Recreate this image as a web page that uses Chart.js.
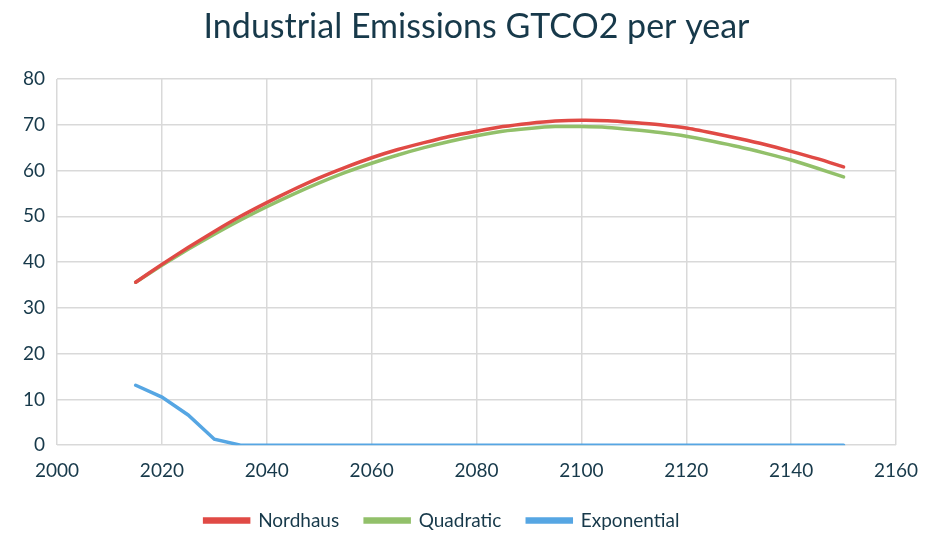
<!DOCTYPE html>
<html>
<head>
<meta charset="utf-8">
<script src="https://cdn.jsdelivr.net/npm/chart.js@4"></script>
<style>
  html, body { margin: 0; padding: 0; background: #fff; }
  #wrap { width: 927px; height: 536px; }
</style>
</head>
<body>
<div id="wrap"><canvas id="myChart"></canvas></div>
<script>
// years (x) and the three emission series, GtCO2 per year
const years = [2015, 2020, 2025, 2030, 2035, 2040, 2045, 2050, 2055, 2060, 2065, 2070, 2075, 2080,
  2085, 2090, 2095, 2100, 2105, 2110, 2115, 2120, 2125, 2130, 2135, 2140, 2145, 2150];

const nordhaus = [35.6, 39.5, 43.2, 46.7, 50.0, 53.0, 55.8, 58.4, 60.7, 62.8, 64.6, 66.1, 67.5, 68.6,
  69.6, 70.3, 70.8, 71.0, 70.9, 70.5, 70.0, 69.3, 68.2, 67.0, 65.7, 64.2, 62.6, 60.8];

const quadratic = [35.6, 39.3, 42.8, 46.1, 49.2, 52.1, 54.8, 57.3, 59.6, 61.6, 63.4, 65.0, 66.4, 67.6,
  68.6, 69.2, 69.6, 69.6, 69.4, 68.9, 68.3, 67.5, 66.4, 65.2, 63.8, 62.3, 60.5, 58.6];

const exponential = [13.1, 10.5, 6.6, 1.3, 0, 0, 0, 0, 0, 0, 0, 0, 0, 0,
  0, 0, 0, 0, 0, 0, 0, 0, 0, 0, 0, 0, 0, 0];

const seriesNames = ['Nordhaus', 'Quadratic', 'Exponential'];
const seriesColors = ['#e04a45', '#92c06a', '#56a6e3'];
const seriesTension = [0.2, 0.2, 0];
const chartTitle = 'Industrial Emissions GTCO2 per year';

function toPoints(vals) {
  return years.map((y, i) => ({ x: y, y: vals[i] }));
}

const textColor = '#17394a';
const font = "'Lato', 'Open Sans', sans-serif";

// title centred over the plot area, like the spreadsheet original
const plotTitle = {
  id: 'plotTitle',
  afterDraw(chart) {
    const ctx = chart.ctx, a = chart.chartArea;
    ctx.save();
    ctx.fillStyle = textColor;
    ctx.font = "normal 34px " + font;
    ctx.textAlign = 'center';
    ctx.textBaseline = 'middle';
    ctx.fillText(chartTitle, (a.left + a.right) / 2, 27);
    ctx.restore();
  }
};

// keep the legend short so the plot reaches further down, then nudge it into place
const shortLegend = {
  id: 'shortLegend',
  beforeInit(chart) {
    const fit = chart.legend.fit;
    chart.legend.fit = function () {
      fit.call(this);
      this.height = 40;
    };
  },
  afterLayout(chart) {
    const lg = chart.legend;
    lg.top -= 11;
    lg.height += 11;
    lg.left -= 22;
    lg.right -= 22;
  }
};

const data = {
  datasets: [nordhaus, quadratic, exponential].map((vals, i) => ({
    label: seriesNames[i],
    data: toPoints(vals),
    borderColor: seriesColors[i],
    backgroundColor: seriesColors[i],
    borderWidth: 3.5,
    pointRadius: 0,
    tension: seriesTension[i],
    borderCapStyle: 'round'
  }))
};

const config = {
  type: 'line',
  data,
  options: {
    responsive: true,
    maintainAspectRatio: false,
    animation: false,
    layout: { padding: { left: 11, right: 10, top: 79, bottom: 0 } },
    plugins: {
      title: { display: false },
      legend: {
        position: 'bottom',
        labels: {
          color: textColor,
          font: { family: font, size: 19 },
          boxWidth: 44,
          boxHeight: 3,
          padding: 26
        }
      },
      tooltip: { enabled: false }
    },
    scales: {
      x: {
        type: 'linear',
        min: 2000,
        max: 2160,
        afterFit(scale) { scale.paddingRight = 31; },
        ticks: {
          stepSize: 20, color: textColor, font: { family: font, size: 19 }, padding: 14,
          callback: v => String(v)
        },
        grid: { color: '#d9d9d9', lineWidth: 1.5, drawTicks: false },
        border: { display: false }
      },
      y: {
        min: 0,
        max: 80,
        ticks: { stepSize: 10, color: textColor, font: { family: font, size: 19 }, padding: 12 },
        grid: { color: '#d9d9d9', lineWidth: 1.5, drawTicks: false },
        border: { display: false }
      }
    }
  },
  plugins: [plotTitle, shortLegend]
};

const myChart = new Chart(document.getElementById('myChart'), config);
</script>
</body>
</html>
